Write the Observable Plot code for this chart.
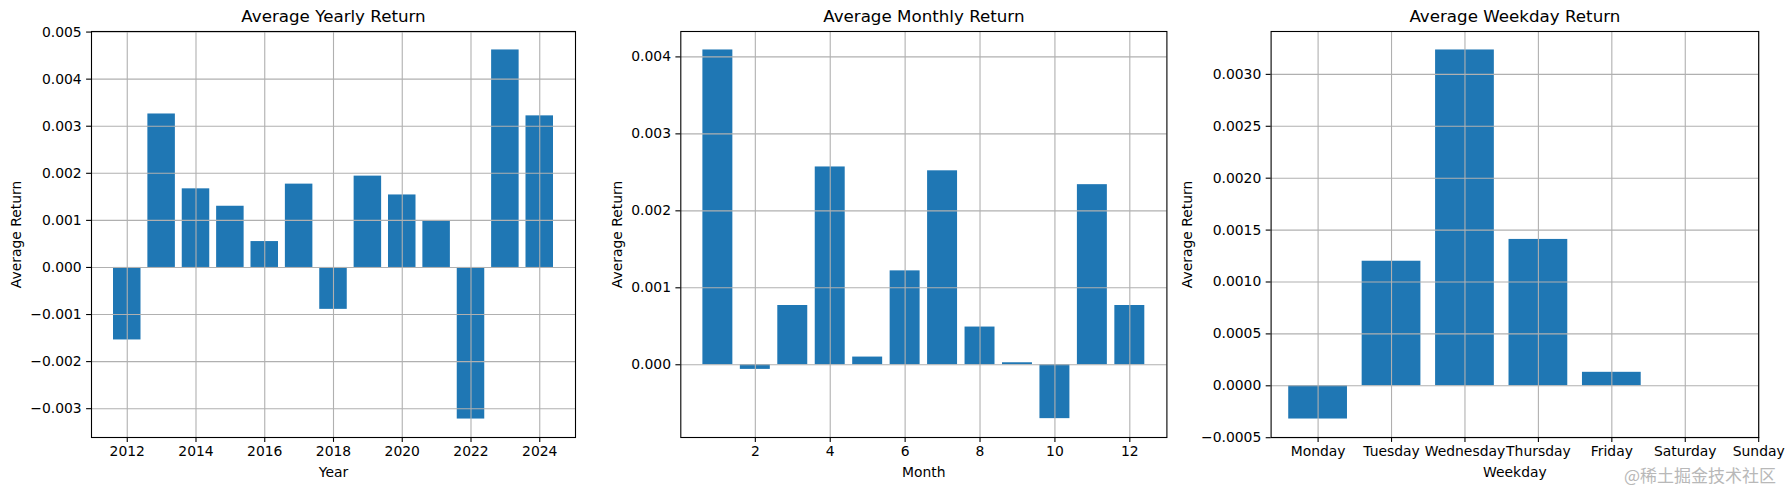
<!DOCTYPE html>
<html>
<head>
<meta charset="utf-8">
<script src="https://cdn.jsdelivr.net/npm/d3@7"></script>
<script src="https://cdn.jsdelivr.net/npm/@observablehq/plot@0.6"></script>
<style>
  html, body { margin: 0; padding: 0; background: #fff; }
  #wrap { position: relative; width: 1790px; height: 490px; overflow: hidden; font-family: "DejaVu Sans", sans-serif; }
  .panel { position: absolute; top: 0; }
  #wm { position: absolute; left: 1624px; top: 462px; font-family: "Noto Sans CJK SC", sans-serif; font-size: 17px; color: #b8b8b8; white-space: nowrap; }
</style>
</head>
<body>
<div id="wrap"></div>
<script>
// ---- data ----
const years = [2012, 2013, 2014, 2015, 2016, 2017, 2018, 2019, 2020, 2021, 2022, 2023, 2024];
const yearlyReturn = [-0.00154, 0.00326, 0.00167, 0.00130, 0.00055, 0.00177, -0.00089, 0.00194, 0.00154, 0.00099, -0.00322, 0.00462, 0.00322];

const months = [1, 2, 3, 4, 5, 6, 7, 8, 9, 10, 11, 12];
const monthlyReturn = [0.00409, -0.00006, 0.00077, 0.00257, 0.00010, 0.00122, 0.00252, 0.00049, 0.000026, -0.00070, 0.00234, 0.00077];

const weekdays = ["Monday", "Tuesday", "Wednesday", "Thursday", "Friday", "Saturday", "Sunday"];
const weekdayReturn = [-0.00032, 0.00120, 0.003235, 0.00141, 0.00013];

const yearXTicks = [2012, 2014, 2016, 2018, 2020, 2022, 2024];
const yearYTicks = [-0.003, -0.002, -0.001, 0, 0.001, 0.002, 0.003, 0.004, 0.005];
const monthXTicks = [2, 4, 6, 8, 10, 12];
const monthYTicks = [0, 0.001, 0.002, 0.003, 0.004];
const weekdayXTicks = [0, 1, 2, 3, 4, 5, 6];
const weekdayYTicks = [-0.0005, 0, 0.0005, 0.001, 0.0015, 0.002, 0.0025, 0.003];

// ---- helpers ----
const BLUE = "#1f77b4";
const GRID = "#b0b0b0";
const FONT = "DejaVu Sans, sans-serif";

function panel({left, width, ml, mr, xDomain, yDomain, xTicks, yTicks, xFmt, yFmt, data, title, xLabel, yLabelX}) {
  const mt = 31, mb = 53, height = 490;
  const chart = Plot.plot({
    width, height,
    marginLeft: ml, marginRight: mr, marginTop: mt, marginBottom: mb,
    style: {fontFamily: FONT, fontSize: "13.9px", color: "#000", background: "transparent", overflow: "visible"},
    x: {domain: xDomain, ticks: xTicks, tickFormat: xFmt},
    y: {domain: yDomain, ticks: yTicks, tickFormat: yFmt},
    marks: [
      Plot.rectY(data, {x1: d => d.x - 0.4, x2: d => d.x + 0.4, y1: 0, y2: "v", fill: BLUE}),
      Plot.gridX(xTicks, {stroke: GRID, strokeOpacity: 1, strokeWidth: 1.1}),
      Plot.gridY(yTicks, {stroke: GRID, strokeOpacity: 1, strokeWidth: 1.1}),
      Plot.frame({stroke: "#000", strokeWidth: 1.1}),
      Plot.axisX(xTicks, {tickFormat: xFmt, tickSize: 4.9, tickPadding: 4, stroke: "#000", strokeWidth: 1.1, fontSize: 13.9, label: null}),
      Plot.axisY(yTicks, {tickFormat: yFmt, tickSize: 4.9, tickPadding: 4.9, stroke: "#000", strokeWidth: 1.1, fontSize: 13.9, label: null}),
      Plot.text([title], {frameAnchor: "top", dy: -14.5, lineAnchor: "middle", fontSize: 16.7, fill: "#000"}),
      Plot.text([xLabel], {frameAnchor: "bottom", dy: 35, lineAnchor: "middle", fontSize: 13.9, fill: "#000"}),
      Plot.text(["Average Return"], {frameAnchor: "left", dx: yLabelX - ml, rotate: -90, textAnchor: "middle", lineAnchor: "middle", fontSize: 13.9, fill: "#000"})
    ]
  });
  chart.classList.add("panel");
  chart.style.left = left + "px";
  document.getElementById("wrap").appendChild(chart);
}

const f3 = d3.format(".3f");
const f4 = d3.format(".4f");

panel({
  left: 0, width: 600, ml: 91, mr: 25,
  xDomain: [2010.96, 2025.04], yDomain: [-0.003612, 0.005012],
  xTicks: yearXTicks, yTicks: yearYTicks, xFmt: d => String(d), yFmt: f3,
  data: years.map((x, i) => ({x, v: yearlyReturn[i]})),
  title: "Average Yearly Return", xLabel: "Year", yLabelX: 15.7
});

panel({
  left: 600, width: 590, ml: 80.3, mr: 23.6,
  xDomain: [0.01, 12.99], yDomain: [-0.000945, 0.004330],
  xTicks: monthXTicks, yTicks: monthYTicks, xFmt: d => String(d), yFmt: f3,
  data: months.map((x, i) => ({x, v: monthlyReturn[i]})),
  title: "Average Monthly Return", xLabel: "Month", yLabelX: 16.7
});

panel({
  left: 1190, width: 600, ml: 80.6, mr: 31.8,
  xDomain: [-0.64, 6], yDomain: [-0.000498, 0.003413],
  xTicks: weekdayXTicks, yTicks: weekdayYTicks, xFmt: i => weekdays[i], yFmt: f4,
  data: weekdayReturn.map((v, i) => ({x: i, v})),
  title: "Average Weekday Return", xLabel: "Weekday", yLabelX: -3.2
});

const wm = document.createElement("div");
wm.id = "wm";
wm.textContent = "@稀土掘金技术社区";
document.getElementById("wrap").appendChild(wm);
</script>
</body>
</html>
